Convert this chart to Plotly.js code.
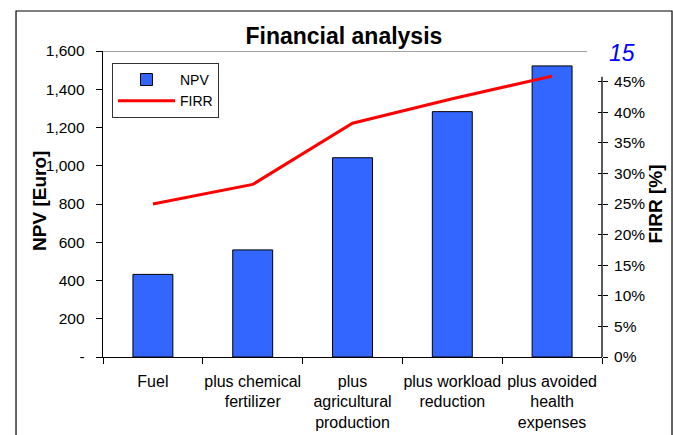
<!DOCTYPE html>
<html>
<head>
<meta charset="utf-8">
<script src="https://cdn.plot.ly/plotly-3.0.1.min.js"></script>
<style>html,body{margin:0;padding:0;background:#fff;}#chart{width:673px;height:435px;}</style>
</head>
<body>
<div id="chart"></div>
<script>
// ---- data ----
const categories = ["Fuel", "plus chemical<br>fertilizer", "plus<br>agricultural<br>production", "plus workload<br>reduction", "plus avoided<br>health<br>expenses"];
const npvValues = [432, 560, 1042, 1283, 1522];
const firrValues = [0.250, 0.282, 0.382, 0.422, 0.459];
const npvTickVals = [0, 200, 400, 600, 800, 1000, 1200, 1400, 1600];
const npvTickText = ["-", "200", "400", "600", "800", "1,000", "1,200", "1,400", "1,600"];
const firrTickVals = [0, 0.05, 0.10, 0.15, 0.20, 0.25, 0.30, 0.35, 0.40, 0.45];
const firrTickText = ["0%", "5%", "10%", "15%", "20%", "25%", "30%", "35%", "40%", "45%"];

const FONT = "Liberation Sans, Arial, sans-serif";

const traces = [
  {
    type: "bar", name: "NPV", x: categories, y: npvValues,
    marker: {color: "#3366FF", line: {color: "#000000", width: 1}},
    xaxis: "x", yaxis: "y"
  },
  {
    type: "scatter", mode: "lines", name: "FIRR", x: categories, y: firrValues,
    line: {color: "#FF0000", width: 3},
    xaxis: "x", yaxis: "y2"
  }
];

const layout = {
  width: 673, height: 435,
  margin: {l: 103, r: 71, t: 51, b: 78, pad: 0},
  paper_bgcolor: "#ffffff", plot_bgcolor: "rgba(0,0,0,0)",
  font: {family: FONT, size: 15, color: "#000000"},
  title: {text: "<b>Financial analysis</b>", font: {family: FONT, size: 23, color: "#000"},
          xref: "container", yref: "container", x: 0.511, y: 0.917, xanchor: "center", yanchor: "middle"},
  bargap: 0.6,
  showlegend: true,
  legend: {x: 0.018, y: 0.961, xanchor: "left", yanchor: "top",
           bgcolor: "#ffffff", bordercolor: "#333333", borderwidth: 1,
           font: {family: FONT, size: 14}, itemwidth: 57, tracegroupgap: 0},
  xaxis: {
    type: "category", showgrid: false, zeroline: false,
    showline: true, linecolor: "#000", linewidth: 1.3,
    ticks: "outside", ticklen: 6, tickcolor: "#000", tickson: "boundaries",
    tickangle: 0, ticklabelstandoff: 9,
    tickfont: {family: FONT, size: 16}
  },
  yaxis: {
    range: [0, 1600], showgrid: false, zeroline: false,
    showline: true, linecolor: "#000", linewidth: 1.3,
    ticks: "outside", ticklen: 6, tickcolor: "#000",
    tickvals: npvTickVals, ticktext: npvTickText,
    ticklabelstandoff: 8,
    tickfont: {family: FONT, size: 15.5}
  },
  yaxis2: {
    range: [0, 0.5], overlaying: "y", side: "right", anchor: "x",
    showgrid: false, zeroline: false, showline: false,
    ticks: "outside", ticklen: 5, tickcolor: "#000",
    tickvals: firrTickVals, ticktext: firrTickText,
    ticklabelstandoff: 3,
    tickfont: {family: FONT, size: 15.5},
    title: {text: "<b>FIRR [%]</b>", font: {family: FONT, size: 19}, standoff: 2}
  },
  yaxis3: {
    range: [0, 0.5], overlaying: "y", side: "right", anchor: "x",
    showgrid: false, zeroline: false, showline: false,
    ticks: "inside", ticklen: 4, tickcolor: "#000",
    tickvals: firrTickVals, showticklabels: false
  },
  shapes: [
    // outer chart frame
    {type: "rect", xref: "paper", yref: "paper", x0: -0.1743, x1: 1.1403, y0: -0.30, y1: 1.1307,
     line: {color: "#000", width: 1.2}, fillcolor: "rgba(0,0,0,0)", layer: "below"},
    // top border line of plot area
    {type: "line", xref: "paper", yref: "y", x0: 0, x1: 0.970, y0: 1600, y1: 1600,
     line: {color: "#808080", width: 1.3}},
    // secondary axis line
    {type: "line", xref: "paper", yref: "y2", x0: 1, x1: 1, y0: 0, y1: 0.458,
     line: {color: "#000", width: 1.3}}
  ],
  annotations: [
    {text: "<b>NPV [Euro]</b>", xref: "paper", yref: "paper", x: -0.1263, y: 0.51, xanchor: "center", yanchor: "middle",
     textangle: -90, showarrow: false, font: {family: FONT, size: 19, color: "#000"}},
    {text: "<i>15</i>", xref: "paper", yref: "paper", x: 1.04, y: 0.994, xanchor: "center", yanchor: "middle",
     showarrow: false, font: {family: FONT, size: 23, color: "#0000FF"}}
  ]
};

// dummy trace so yaxis3 is drawn
traces.push({type: "scatter", x: [categories[0]], y: [null], yaxis: "y3", showlegend: false, hoverinfo: "skip"});

Plotly.newPlot("chart", traces, layout, {displayModeBar: false, staticPlot: true});
</script>
</body>
</html>
